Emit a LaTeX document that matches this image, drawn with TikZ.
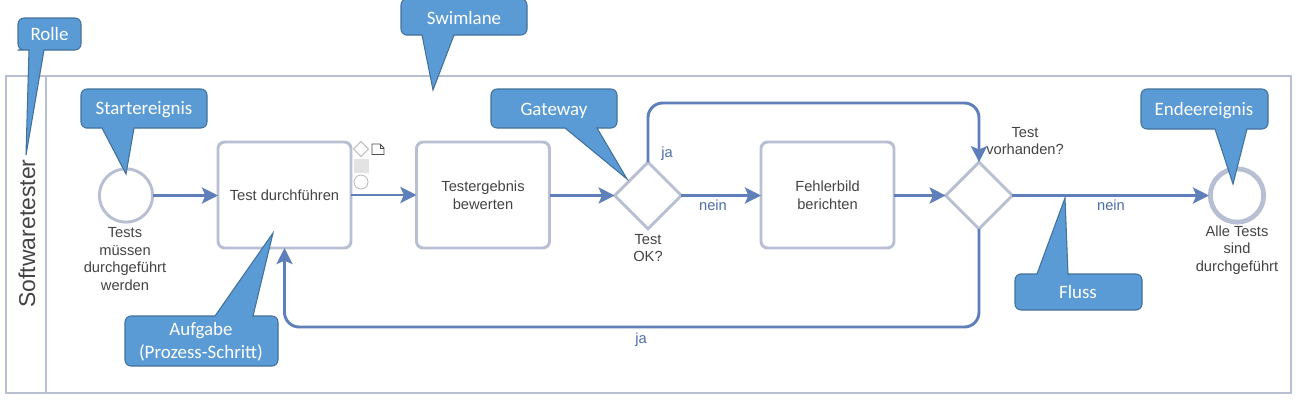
\documentclass[tikz,border=0pt]{standalone}
\usepackage{fontspec}
\setmainfont{Liberation Sans}
\newfontfamily\calloutfont{Carlito}
\usetikzlibrary{arrows.meta,shapes.geometric}
\definecolor{laneline}{HTML}{B8BFD3}
\definecolor{flowblue}{HTML}{5F7FBB}
\definecolor{flowtext}{HTML}{4F6DA6}
\definecolor{bodytext}{HTML}{444444}
\definecolor{callfill}{HTML}{5B9BD5}
\definecolor{callline}{HTML}{41719C}
\tikzset{
  x=0.75pt,y=-0.75pt,
  lane/.style={draw=laneline,line width=2.2pt,fill=white},
  taskbox/.style={draw=laneline,line width=2.2pt,fill=white,rounded corners=5pt,minimum width=99.75pt,minimum height=79.5pt,outer sep=0pt,align=center,text=bodytext,font=\fontsize{11pt}{13.2pt}\selectfont},
  gate/.style={diamond,aspect=1,draw=laneline,line width=2.2pt,fill=white,minimum width=50pt,minimum height=50pt,inner sep=0pt,outer sep=0pt},
  startev/.style={circle,draw=laneline,line width=2.2pt,fill=white,minimum size=40pt,inner sep=0pt,outer sep=0pt},
  endev/.style={circle,draw=laneline,line width=3.6pt,fill=white,minimum size=40pt,inner sep=0pt,outer sep=1pt},
  flow/.style={draw=flowblue,line width=2.2pt,-{Stealth[length=12pt,width=12pt,inset=2.5pt]}},
  loopflow/.style={flow,rounded corners=11pt},
  lbl/.style={align=center,text=bodytext,font=\fontsize{11pt}{13.2pt}\selectfont,inner sep=0pt},
  flowlbl/.style={text=flowtext,font=\fontsize{11pt}{13pt}\selectfont,inner sep=0pt},
  callshape/.style={draw=callline,line width=0.8pt,fill=callfill,line join=miter},
  calltext/.style={text=white,align=center,font=\calloutfont\fontsize{14.2pt}{17.5pt}\selectfont,inner sep=0pt},
  paleicon/.style={draw=black!28,line width=0.6pt,fill=white},
}
% #1 x1, #2 y1, #3 x2, #4 y2, #5 base left, #6 base right, #7 tip x, #8 tip y
\newcommand{\calloutbelow}[8]{%
  \path[callshape,sharp corners] ({(#1+#5)/2},#4) -- (#5,#4) -- (#7,#8) -- (#6,#4) -- ({(#6+#3)/2},#4) [rounded corners=4.5pt] -- (#3,#4) -- (#3,#2) -- (#1,#2) -- (#1,#4) -- cycle;}
\newcommand{\calloutabove}[8]{%
  \path[callshape,sharp corners] ({(#1+#5)/2},#2) -- (#5,#2) -- (#7,#8) -- (#6,#2) -- ({(#6+#3)/2},#2) [rounded corners=4.5pt] -- (#3,#2) -- (#3,#4) -- (#1,#4) -- (#1,#2) -- cycle;}
\begin{document}
\begin{tikzpicture}
\useasboundingbox (0,0) rectangle (1296,408);
% lane
\draw[lane] (6,76) rectangle (1291,393);
\draw[lane] (46,76) -- (46,393);
\node[rotate=90,text=bodytext,font=\fontsize{17.2pt}{19pt}\selectfont,inner sep=0pt] (role) at (27,233.5) {Softwaretester};
% nodes
\node[startev] (start) at (126,195.5) {};
\node[taskbox] (t1) at (284.5,195) {Test durchführen};
\node[taskbox] (t2) at (483,195) {Testergebnis\\bewerten};
\node[gate] (g1) at (648,195.5) {};
\node[taskbox] (t3) at (827.5,195) {Fehlerbild\\berichten};
\node[gate] (g2) at (979,195.5) {};
\node[endev] (end) at (1237,195.5) {};
% node labels
\node[lbl] (ls) at (125,259) {Tests\\müssen\\durchgeführt\\werden};
\node[lbl] (lg1) at (648,248) {Test\\OK?};
\node[lbl] (lg2) at (1025,141) {Test\\vorhanden?};
\node[lbl] (le) at (1237,250) {Alle Tests\\sind\\durchgeführt};
% flows
\draw[flow] (start) -- (t1.west |- start);
\draw[flow] (t1) -- (t2);
\draw[flow] (t2.east |- g1) -- (g1);
\draw[flow] (g1) -- (t3.west |- g1);
\draw[flow] (t3.east |- g2) -- (g2);
\draw[flow] (g2) -- (end);
\coordinate (topy) at (800,103);
\coordinate (boty) at (600,327);
\draw[loopflow] (g1.north) -- (g1.north |- topy) -- (g2.north |- topy) -- (g2.north);
\draw[loopflow] (g2.south) -- (g2.south |- boty) -- (t1.south |- boty) -- (t1.south);
% flow labels
\node[flowlbl] (fa) at (667,154) {ja};
\node[flowlbl] (fb) at (713,205) {nein};
\node[flowlbl] (fc) at (641,339.5) {ja};
\node[flowlbl] (fd) at (1111,205) {nein};
% hover icons
\draw[paleicon] (361,141.5) -- (368.5,149) -- (361,156.5) -- (353.5,149) -- cycle;
\draw[draw=black!70,line width=0.7pt,fill=white] (372,144) -- (380,144) -- (384,148) -- (384,154.5) -- (372,154.5) -- cycle;
\draw[draw=black!70,line width=0.5pt] (380,144) -- (380,148) -- (384,148);
\fill[black!11] (354,159) rectangle (368.5,173);
\draw[paleicon] (361,182) circle[radius=7];
% callouts
\calloutbelow{18}{18}{81}{50}{29}{44}{26}{155}
\node[calltext] (c1) at (49.5,34) {Rolle};
\calloutbelow{401}{-1}{527}{35}{422}{454}{433}{90}
\node[calltext] (c2) at (464,18) {Swimlane};
\calloutbelow{81}{89}{207}{128}{102}{134}{126}{174}
\node[calltext] (c3) at (144,110) {Startereignis};
\calloutbelow{491}{89}{617}{128}{565}{597}{627}{179}
\node[calltext] (c4) at (554,110.5) {Gateway};
\calloutbelow{1141}{89}{1268}{129}{1215}{1247}{1233}{184}
\node[calltext] (c5) at (1204,110.5) {Endeereignis};
\calloutabove{1015}{274}{1142}{310}{1037}{1068}{1065}{198}
\node[calltext] (c6) at (1078,292) {Fluss};
\calloutabove{125}{316}{278}{366}{215}{253}{273}{233}
\node[calltext] (c7) at (201,342) {Aufgabe\\(Prozess-Schritt)};
\end{tikzpicture}
\end{document}
